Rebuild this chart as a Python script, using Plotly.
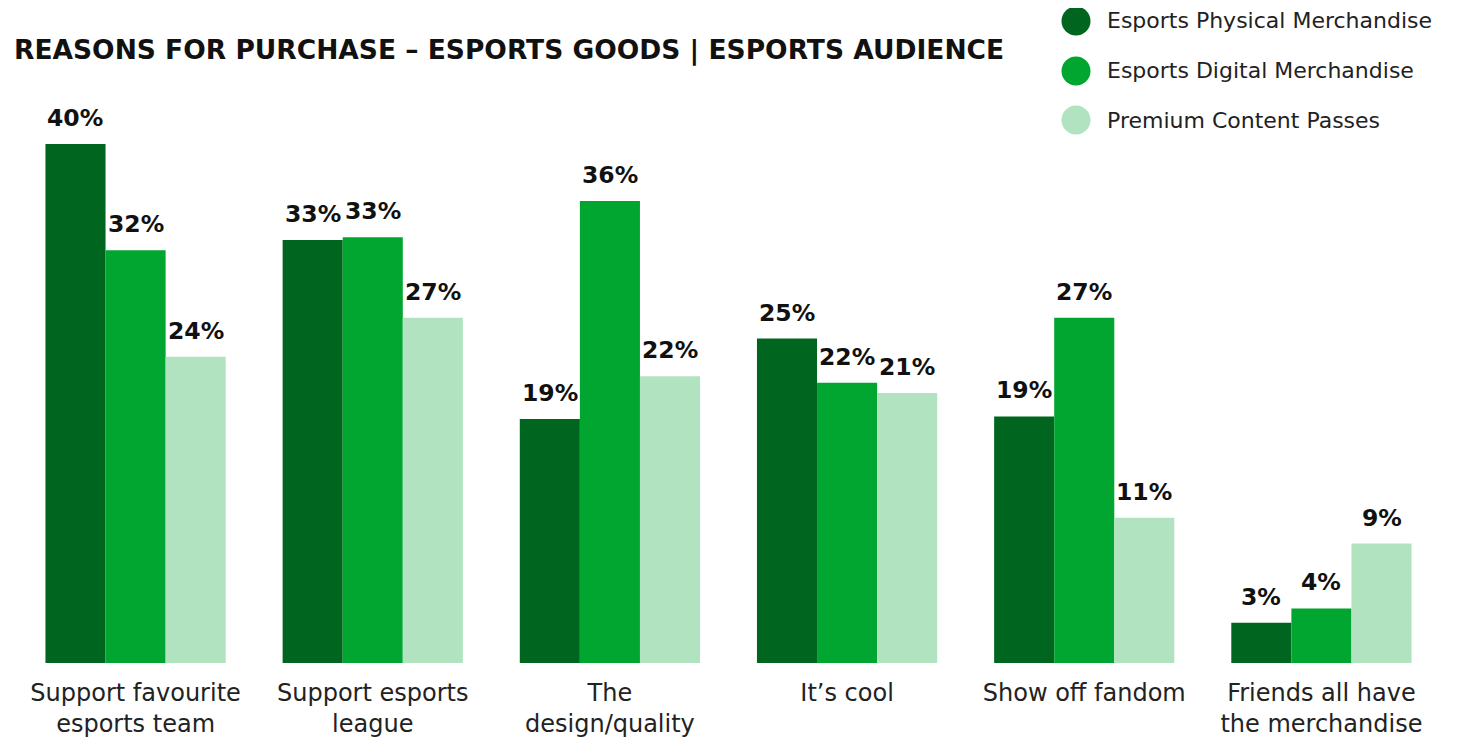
import plotly.graph_objects as go

W, H = 1470, 743
OFF = 8  # page body margin
ML, MR, MT, MB = 17 - OFF, 30 + OFF, 79 - OFF, 80 + OFF
BARGAP = 0.24

categories = [
    "Support favourite<br>esports team",
    "Support esports<br>league",
    "The<br>design/quality",
    "It\u2019s cool",
    "Show off fandom",
    "Friends all have<br>the merchandise",
]
series_names = [
    "Esports Physical Merchandise",
    "Esports Digital Merchandise",
    "Premium Content Passes",
]
physical = [40.0, 32.6, 18.8, 25.0, 19.0, 3.1]
digital = [31.8, 32.8, 35.6, 21.6, 26.6, 4.2]
premium = [23.6, 26.6, 22.1, 20.8, 11.2, 9.2]
colors = ["#00661F", "#00A630", "#B2E3C1"]

FONT = "DejaVu Sans"

pw, ph = W - ML - MR, H - MT - MB
bar_px = pw / len(categories) * (1 - BARGAP) / len(series_names)

fig = go.Figure()
all_series = [physical, digital, premium]
for i, (name, vals, col) in enumerate(zip(series_names, all_series, colors)):
    fig.add_trace(go.Bar(
        x=categories, y=vals, name=name,
        marker=dict(color=col, line=dict(width=0)),
        showlegend=False, hoverinfo="x+y+name",
    ))
    shift = (i - (len(series_names) - 1) / 2) * bar_px
    for cat, v in zip(categories, vals):
        fig.add_annotation(x=cat, y=v, xref="x", yref="y",
                           text=f"<b>{v:.0f}%</b>", showarrow=False,
                           xanchor="center", yanchor="bottom",
                           xshift=shift, yshift=10,
                           font=dict(family=FONT, size=23.5, color="#111111"))

# manual legend (circle + label); positions given in screen pixels
def px2x(px):
    return (px - OFF - ML) / pw
def py2y(py):
    return (H - MB - (py - OFF)) / ph

legend_y = [21, 71, 120]
for name, col, yy in zip(series_names, colors, legend_y):
    fig.add_shape(type="circle", xref="paper", yref="paper",
                  xsizemode="pixel", ysizemode="pixel",
                  xanchor=px2x(1076), yanchor=py2y(yy),
                  x0=-14.5, x1=14.5, y0=-14.5, y1=14.5,
                  fillcolor=col, line=dict(width=0))
    fig.add_annotation(x=px2x(1105), y=py2y(yy), xref="paper", yref="paper",
                       text=name, showarrow=False, xanchor="left", yanchor="middle",
                       font=dict(family=FONT, size=22, color="#222222"))

fig.update_layout(
    width=W, height=H,
    margin=dict(l=ML, r=MR, t=MT, b=MB, pad=0),
    paper_bgcolor="white", plot_bgcolor="white",
    barmode="group", bargap=BARGAP, bargroupgap=0,
    title=dict(text="<b>REASONS FOR PURCHASE \u2013 ESPORTS GOODS | ESPORTS AUDIENCE</b>",
               x=(14 - OFF) / W, xanchor="left", xref="container",
               y=1 - (50 - OFF) / H, yanchor="middle", yref="container",
               font=dict(family=FONT, size=26.5, color="#111111")),
    xaxis=dict(showgrid=False, showline=False, zeroline=False, ticks="",
               ticklabelstandoff=13,
               tickfont=dict(family=FONT, size=24, color="#222222")),
    yaxis=dict(range=[0, 45], visible=False, showgrid=False, zeroline=False),
    font=dict(family=FONT),
)

fig.write_html("out.html")
